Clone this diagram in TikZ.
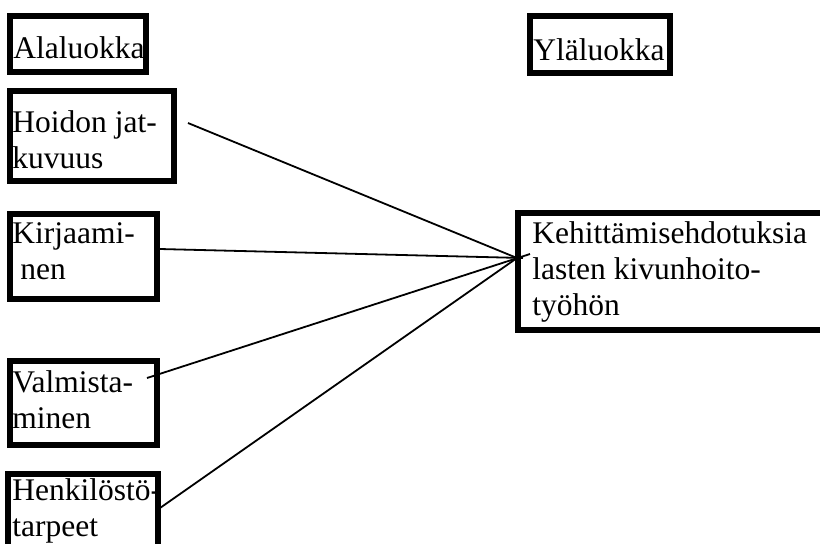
\documentclass[tikz,border=0pt]{standalone}
\usepackage{fontspec}
\setmainfont{Liberation Serif}
\usetikzlibrary{fit}

\begin{document}
\begin{tikzpicture}[
    x=0.5pt,
    y=-0.5pt,
    box/.style={
        rectangle,
        draw,
        line width=2.9pt,
        inner sep=0pt
    },
    txt/.style={
        anchor=base west,
        align=left,
        inner sep=0pt,
        font=\fontsize{15.75}{18}\selectfont
    },
    link/.style={
        line width=0.9pt
    }
]
\useasboundingbox (0,0) rectangle (820,543);
\clip (0,0) rectangle (820,543);

% Headers
\node[box, fit={(10,16) (146,72)}] (ala) {};
\node[txt] (alatxt) at (13,58) {Alaluokka};
\node[box, fit={(530,16) (670,73)}] (yla) {};
\node[txt] (ylatxt) at (533,60) {Yläluokka};

% Subcategories (text placed by its last baseline)
\node[box, fit={(10,91) (174,181)}] (hoi) {};
\node[txt] (hoitxt) at (12,168) {Hoidon jat-\\kuvuus};
\node[box, fit={(10,214) (157,299)}] (kir) {};
\node[txt] (kirtxt) at (12,279) {Kirjaami-\\\hspace*{0.25em}nen};
\node[box, fit={(10,361) (157,445)}] (val) {};
\node[txt] (valtxt) at (12,428) {Valmista-\\minen};
\node[box, fit={(8,474) (158,560)}] (hen) {};
\node[txt] (hentxt) at (12,536) {Henkilöstö-\\tarpeet};

% Main category
\node[box, fit={(518,213) (840,330)}] (keh) {};
\node[txt] (kehtxt) at (532,315) {Kehittämisehdotuksia\\lasten kivunhoito-\\työhön};

% Line ends
\coordinate (hub) at (517,258);
\coordinate (kirtip) at (523,258);
\coordinate (valtip) at (530,254);
\coordinate (hoiend) at (188,123);
\coordinate (kirend) at (160,249);
\coordinate (valend) at (147,378);
\coordinate (henend) at (160,508);

% Lines
\draw[link] (hoiend) -- (hub);
\draw[link] (kirend) -- (kirtip);
\draw[link] (valend) -- (valtip);
\draw[link] (henend) -- (hub);

\end{tikzpicture}
\end{document}
